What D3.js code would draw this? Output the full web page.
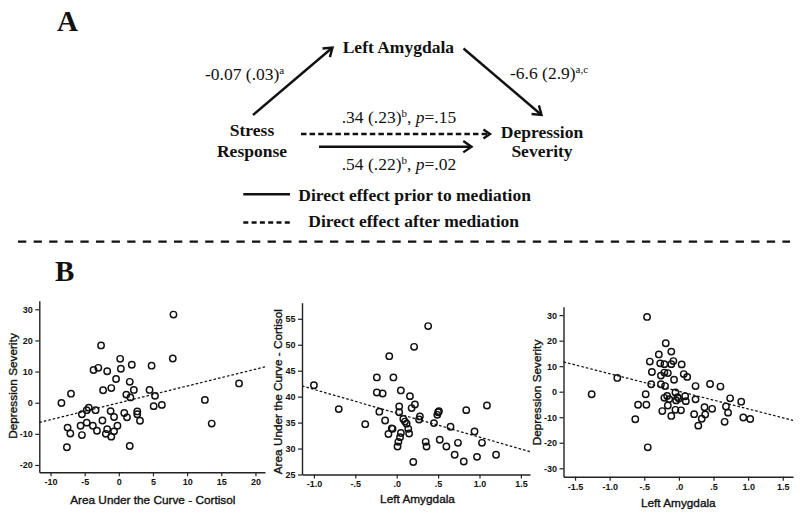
<!DOCTYPE html>
<html>
<head>
<meta charset="utf-8">
<script src="https://cdn.jsdelivr.net/npm/d3@7/dist/d3.min.js"></script>
<style>
  html, body { margin: 0; padding: 0; background: #fff; }
  svg { display: block; }
</style>
</head>
<body>
<svg id="chart" width="800" height="518"></svg>
<script>
// ---------------- DATA ----------------
// Panel A: mediation model
const nodeLabels = {
  mediator: ["Left Amygdala"],
  predictor: ["Stress", "Response"],
  outcome: ["Depression", "Severity"]
};
const pathA = { coef: "-0.07 (.03)", sup: "a" };
const pathB = { coef: "-6.6 (2.9)", sup: "a,c" };
const pathDirectAfter = { coef: ".34 (.23)", sup: "b", p: ".15" };
const pathDirectBefore = { coef: ".54 (.22)", sup: "b", p: ".02" };
const legendLabels = ["Direct effect prior to mediation", "Direct effect after mediation"];

// Panel B, plot 1: AUC cortisol vs depression severity
const auc1 = [-8.4,-7.0,-7.5,-7.1,-7.6,-5.4,-5.6,-5.4,-4.7,-4.7,-4.4,-3.4,-3.8,-3.2,-3.7,-3.0,-2.6,-2.3,-2.4,-1.7,-1.7,-1.9,-1.1,-1.2,-1.1,-0.7,-0.7,-0.4,-0.2,0.2,0.3,0.8,1.1,1.2,1.6,1.7,1.6,1.9,2.2,2.7,2.7,3.1,4.5,4.8,5.3,5.1,6.3,8.0,7.9,12.6,13.6,17.6];
const dep1 = [-0.1,2.9,-8.0,-9.9,-14.3,-3.7,-7.4,-10.4,-6.4,-2.4,-1.6,-2.4,-7.4,-9.0,10.5,11.2,18.4,4.0,-5.7,10.1,-8.5,-10.0,4.7,-2.7,-10.9,-4.6,-9.2,7.6,-7.4,14.1,10.9,-3.3,2.6,-4.7,6.7,1.7,-13.9,12.2,4.1,-2.8,-3.7,-5.8,4.1,11.9,2.2,-1.1,-0.7,28.3,14.2,0.9,-6.7,6.2];
const fit1 = [-0.05, 0.54]; // intercept, slope
const xTicks1 = [-10,-5,0,5,10,15,20];
const xTickLabels1 = ["-10","-5","0","5","10","15","20"];
const yTicks1 = [-20,-10,0,10,20,30];
const yTickLabels1 = ["-20","-10","0","10","20","30"];

// Plot 2: left amygdala vs AUC cortisol
const amy2 = [-1.0,-0.70,-0.38,-0.24,-0.24,-0.17,-0.21,-0.14,-0.09,-0.04,-0.06,-0.05,-0.10,0.03,0.03,0.05,0.01,0.02,0.04,0.05,0.08,0.10,0.12,0.14,0.15,0.16,0.18,0.22,0.21,0.20,0.28,0.27,0.38,0.35,0.36,0.45,0.49,0.50,0.51,0.52,0.60,0.65,0.70,0.74,0.81,0.84,0.94,0.97,1.03,1.09,1.20];
const auc2 = [42.2,37.6,34.7,43.7,40.8,40.6,37.1,35.4,47.8,43.7,33.9,33.8,32.8,38.1,37.0,41.2,30.4,31.3,32.2,33.0,35.7,35.2,34.8,33.8,32.9,40.1,37.8,38.5,49.6,27.4,36.2,35.6,53.6,31.3,30.4,34.9,36.5,37.0,37.2,31.7,30.4,34.2,28.8,31.1,27.5,37.4,33.3,28.4,31.1,38.3,28.8];
const fit2 = [36.8, -4.6];
const xTicks2 = [-1.0,-0.5,0,0.5,1.0,1.5];
const xTickLabels2 = ["-1.0","-.5",".0",".5","1.0","1.5"];
const yTicks2 = [25,30,35,40,45,50,55];
const yTickLabels2 = ["25","30","35","40","45","50","55"];

// Plot 3: left amygdala vs depression severity
const amy3 = [-1.26,-0.89,-0.63,-0.59,-0.48,-0.47,-0.46,-0.45,-0.42,-0.39,-0.40,-0.29,-0.27,-0.26,-0.26,-0.24,-0.21,-0.21,-0.20,-0.19,-0.21,-0.17,-0.16,-0.16,-0.14,-0.11,-0.11,-0.08,-0.11,-0.07,-0.05,-0.04,-0.05,-0.02,0.00,0.03,0.04,0.07,0.09,0.10,0.12,0.22,0.24,0.24,0.28,0.33,0.38,0.37,0.45,0.48,0.60,0.66,0.74,0.68,0.71,0.90,0.93,1.03];
const dep3 = [-1.0,5.4,-10.8,-5.1,-1.0,-5.1,29.3,-21.8,11.8,7.7,2.9,14.6,11.1,6.3,2.9,-7.6,10.8,7.5,2.2,19.0,-2.4,-1.7,-5.4,7.3,-2.9,15.7,10.8,12.0,-9.5,4.7,-0.3,-3.4,-7.1,-2.1,-2.7,-7.3,10.7,6.9,-1.8,-3.7,5.8,-8.8,2.2,-3.0,-13.3,-10.6,-8.9,-6.1,3.0,-6.7,2.0,-11.8,-2.6,-5.8,-8.2,-3.9,-10.1,-10.7];
const fit3 = [0.15, -6.9];
const xTicks3 = [-1.5,-1.0,-0.5,0,0.5,1.0,1.5];
const xTickLabels3 = ["-1.5","-1.0","-.5",".0",".5","1.0","1.5"];
const yTicks3 = [-30,-20,-10,0,10,20,30];
const yTickLabels3 = ["-30","-20","-10","0","10","20","30"];

const axisTitles = [
  ["Area Under the Curve - Cortisol", "Depression Severity"],
  ["Left Amygdala", "Area Under the Curve - Cortisol"],
  ["Left Amygdala", "Depression Severity"]
];

// ---------------- DRAW ----------------
const svg = d3.select("#chart");
const ink = "#111";
const serif = "'Liberation Serif','Times New Roman',serif";
const sans = "'Liberation Sans',Arial,sans-serif";

// Panel letters
svg.append("text").attr("x", 57).attr("y", 31).text("A")
  .attr("font-family", serif).attr("font-weight", "bold").attr("font-size", 29).attr("fill", ink);
svg.append("text").attr("x", 55).attr("y", 280.5).text("B")
  .attr("font-family", serif).attr("font-weight", "bold").attr("font-size", 29).attr("fill", ink);

// separator
svg.append("line").attr("x1", 18).attr("x2", 790).attr("y1", 241.7).attr("y2", 241.7)
  .attr("stroke", ink).attr("stroke-width", 2.2).attr("stroke-dasharray", "8.3,7.3");

// arrows
function arrow(x1, y1, x2, y2, dashed) {
  const g = svg.append("g").attr("stroke", ink).attr("stroke-width", 2.4).attr("fill", "none");
  const ang = Math.atan2(y2 - y1, x2 - x1);
  const L = dashed ? 8 : 10, spread = Math.PI / 5.2;
  g.append("line").attr("x1", x1).attr("y1", y1)
    .attr("x2", x2 - Math.cos(ang) * 1.5).attr("y2", y2 - Math.sin(ang) * 1.5)
    .attr("stroke-dasharray", dashed ? "5.5,3.1" : null);
  const p = d3.path();
  p.moveTo(x2 - L * Math.cos(ang - spread), y2 - L * Math.sin(ang - spread));
  p.lineTo(x2, y2);
  p.lineTo(x2 - L * Math.cos(ang + spread), y2 - L * Math.sin(ang + spread));
  g.append("path").attr("d", p.toString()).attr("stroke-linejoin", "miter");
}
arrow(253, 115, 332.5, 47.5, false);
arrow(463.5, 48.5, 541.5, 115, false);
arrow(301, 134, 490, 134, true);
arrow(319, 146.7, 471.5, 146.7, false);

// node labels
function boldText(x, y, str, anchor) {
  svg.append("text").attr("x", x).attr("y", y).text(str)
    .attr("font-family", serif).attr("font-weight", "bold").attr("font-size", 17.5)
    .attr("fill", ink).attr("text-anchor", anchor || "start");
}
boldText(342.7, 53.3, nodeLabels.mediator[0]);
boldText(252, 136, nodeLabels.predictor[0], "middle");
boldText(252, 156.7, nodeLabels.predictor[1], "middle");
boldText(542, 138.3, nodeLabels.outcome[0], "middle");
boldText(542, 157.3, nodeLabels.outcome[1], "middle");

// coefficient labels
function coefText(x, y, obj) {
  const t = svg.append("text").attr("x", x).attr("y", y)
    .attr("font-family", serif).attr("font-size", 17.5).attr("fill", ink);
  t.append("tspan").text(obj.coef);
  t.append("tspan").text(obj.sup).attr("font-size", 11).attr("dy", -6.5);
  if (obj.p !== undefined) {
    t.append("tspan").text(", ").attr("dy", 6.5);
    t.append("tspan").text("p").attr("font-style", "italic");
    t.append("tspan").text("=" + obj.p);
  }
}
coefText(205, 80, pathA);
coefText(510, 79.3, pathB);
coefText(341.7, 123.3, pathDirectAfter);
coefText(341.7, 170, pathDirectBefore);

// legend
svg.append("line").attr("x1", 243.3).attr("x2", 290).attr("y1", 194.3).attr("y2", 194.3)
  .attr("stroke", ink).attr("stroke-width", 2.4);
svg.append("line").attr("x1", 243.3).attr("x2", 290).attr("y1", 222.5).attr("y2", 222.5)
  .attr("stroke", ink).attr("stroke-width", 2.4).attr("stroke-dasharray", "5,3.3");
boldText(298.3, 200.7, legendLabels[0]);
boldText(308.3, 226.7, legendLabels[1]);

// ---------------- scatter plots ----------------
const plots = [
  { xs: auc1, ys: dep1, fit: fit1, xDom: [-11.64, 21.4], xRange: [39.3, 265], yDom: [-22.35, 32.76], yRange: [472.3, 300.7],
    xTicks: xTicks1, xLabels: xTickLabels1, yTicks: yTicks1, yLabels: yTickLabels1, titles: axisTitles[0],
    xTitleX: 152.8, xTitleY: 504, yTitleX: 17, yTitleY: 386 },
  { xs: amy2, ys: auc2, fit: fit2, xDom: [-1.144, 1.61], xRange: [302, 530], yDom: [25, 58.1], yRange: [474.5, 302.7],
    xTicks: xTicks2, xLabels: xTickLabels2, yTicks: yTicks2, yLabels: yTickLabels2, titles: axisTitles[1],
    xTitleX: 417.5, xTitleY: 503, yTitleX: 282, yTitleY: 391.7 },
  { xs: amy3, ys: dep3, fit: fit3, xDom: [-1.667, 1.648], xRange: [563.5, 793], yDom: [-33.3, 33.3], yRange: [476.7, 306.7],
    xTicks: xTicks3, xLabels: xTickLabels3, yTicks: yTicks3, yLabels: yTickLabels3, titles: axisTitles[2],
    xTitleX: 678.3, xTitleY: 507, yTitleX: 540.5, yTitleY: 392.5 }
];

plots.forEach(pl => {
  const x = d3.scaleLinear().domain(pl.xDom).range(pl.xRange);
  const y = d3.scaleLinear().domain(pl.yDom).range(pl.yRange);
  const g = svg.append("g");

  const xAxis = d3.axisBottom(x).tickValues(pl.xTicks)
    .tickFormat((d, i) => pl.xLabels[i]).tickSizeInner(4).tickSizeOuter(0).tickPadding(2.5);
  const yAxis = d3.axisLeft(y).tickValues(pl.yTicks)
    .tickFormat((d, i) => pl.yLabels[i]).tickSizeInner(4).tickSizeOuter(0).tickPadding(2.5);

  const gx = g.append("g").attr("transform", `translate(0,${pl.yRange[0]})`).call(xAxis);
  const gy = g.append("g").attr("transform", `translate(${pl.xRange[0]},0)`).call(yAxis);
  [gx, gy].forEach(a => {
    a.select(".domain").attr("stroke", "#222").attr("stroke-width", 1.4);
    a.selectAll(".tick line").attr("stroke", "#222").attr("stroke-width", 1.2);
    a.selectAll(".tick text").attr("fill", ink)
      .attr("font-family", sans).attr("font-size", 9).attr("font-weight", "bold");
  });

  // fit line (dotted)
  const [b0, b1] = pl.fit;
  const fitPts = pl.xDom.map(v => [v, b0 + b1 * v]);
  g.append("path")
    .attr("d", d3.line().x(d => x(d[0])).y(d => y(d[1]))(fitPts))
    .attr("fill", "none").attr("stroke", ink).attr("stroke-width", 1.25)
    .attr("stroke-dasharray", "2.6,2");

  // points
  g.selectAll("circle.pt").data(pl.xs.map((v, i) => [v, pl.ys[i]])).join("circle")
    .attr("class", "pt")
    .attr("cx", d => x(d[0])).attr("cy", d => y(d[1])).attr("r", 3.2)
    .attr("fill", "none").attr("stroke", ink).attr("stroke-width", 1.45);

  // axis titles
  g.append("text").attr("x", pl.xTitleX).attr("y", pl.xTitleY).text(pl.titles[0])
    .attr("text-anchor", "middle").attr("font-family", sans).attr("font-size", 11.8).attr("fill", ink)
    .attr("stroke", ink).attr("stroke-width", 0.35);
  g.append("text").attr("transform", `translate(${pl.yTitleX},${pl.yTitleY}) rotate(-90)`).text(pl.titles[1])
    .attr("text-anchor", "middle").attr("font-family", sans).attr("font-size", 11.8).attr("fill", ink)
    .attr("stroke", ink).attr("stroke-width", 0.35);
});
</script>
</body>
</html>
